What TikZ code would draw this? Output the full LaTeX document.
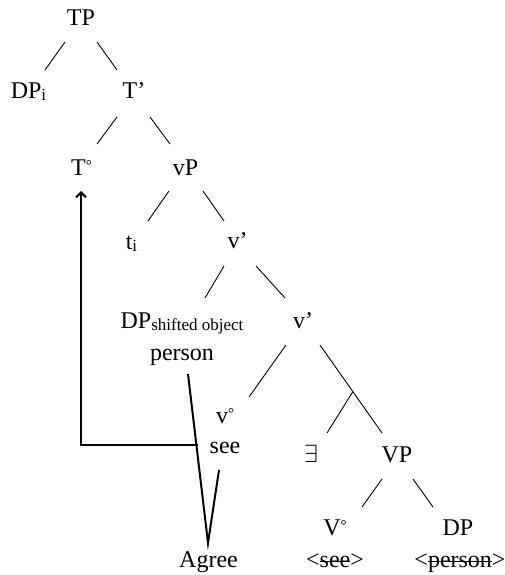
\documentclass[tikz,border=0pt]{standalone}
\usepackage{fontspec}
\setmainfont{Liberation Serif}
\usetikzlibrary{calc,arrows.meta}
\newcommand{\subtxt}[1]{{\fontsize{17}{17}\selectfont\raisebox{-2pt}{#1}}}
\newcommand{\dg}{\raisebox{4.5pt}{\fontsize{15}{15}\selectfont°}}
\newsavebox{\strikebox}
\newcommand{\strk}[1]{\sbox{\strikebox}{#1}\rlap{\rule[0.23em]{\wd\strikebox}{0.9pt}}\usebox{\strikebox}}
\tikzset{
  lab/.style={anchor=base, inner sep=0pt, font=\fontsize{24}{28}\selectfont},
  edge/.style={line width=0.9pt},
  thick move/.style={line width=2pt},
}
\begin{document}
\begin{tikzpicture}[x=1pt,y=-1pt]
\useasboundingbox (0,0) rectangle (505,575);
% nodes
\node[lab] (TP) at (81,26) {TP};
\node[lab] (DPi) at (28.5,99) {DP\subtxt{i}};
\node[lab] (Tbar) at (134,99) {T’};
\node[lab] (T0) at (81.5,175) {T\dg};
\node[lab] (vP) at (185.5,175) {vP};
\node[lab] (ti) at (131.5,249) {t\subtxt{i}};
\node[lab] (vbar1) at (237.5,248) {v’};
\node[lab] (DPs) at (182,328) {DP\subtxt{shifted object}};
\node[lab] (person) at (182,360) {person};
\node[lab] (vbar2) at (303,328) {v’};
\node[lab] (v0) at (225,423) {v\dg};
\node[lab] (see) at (225,453) {see};
\node[lab] (ex) at (311,462) {$\exists$};
\node[lab] (VP) at (397,462) {VP};
\node[lab] (V0) at (335,535) {V\dg};
\node[lab] (seeT) at (335,567) {<\strk{see}>};
\node[lab] (DP) at (458,535) {DP};
\node[lab] (personT) at (460,567) {<\strk{person}>};
\node[lab] (Agree) at (208.5,567) {Agree};
% tree edges
\draw[edge] ($(TP.base)+(-16,16)$) -- ($(DPi.base)+(16.5,-29)$);
\draw[edge] ($(TP.base)+(16,16)$) -- ($(Tbar.base)+(-17,-29)$);
\draw[edge] ($(Tbar.base)+(-17,18)$) -- ($(T0.base)+(15.5,-31)$);
\draw[edge] ($(Tbar.base)+(16,18)$) -- ($(vP.base)+(-15.5,-31)$);
\draw[edge] ($(vP.base)+(-16.5,16)$) -- ($(ti.base)+(16.5,-28)$);
\draw[edge] ($(vP.base)+(17.5,16)$) -- ($(vbar1.base)+(-13.5,-27)$);
\draw[edge] ($(vbar1.base)+(-13.5,18)$) -- ($(DPs.base)+(23,-30)$);
\draw[edge] ($(vbar1.base)+(18.5,18)$) -- ($(vbar2.base)+(-18,-30)$);
\draw[edge] ($(vbar2.base)+(-17,17)$) -- ($(v0.base)+(24,-26)$);
\draw[edge] ($(vbar2.base)+(17,17)$) -- coordinate[pos=0.53] (br) ($(VP.base)+(-15,-29)$);
\draw[edge] (br) -- ($(ex.base)+(16,-29)$);
\draw[edge] ($(VP.base)+(-15,17)$) -- ($(V0.base)+(27,-28)$);
\draw[edge] ($(VP.base)+(16,17)$) -- ($(DP.base)+(-25,-28)$);
% movement arrow
\draw[thick move,-{Straight Barb[length=5pt,width=10pt]}] ($(see.base)+(-27,-8)$) -| ($(T0.base)+(-0.5,16)$);
% agree
\draw[thick move] ($(person.base)+(6,14)$) -- ($(Agree.base)+(-0.5,-24)$) -- ($(see.base)+(-6,17)$);
\end{tikzpicture}
\end{document}
